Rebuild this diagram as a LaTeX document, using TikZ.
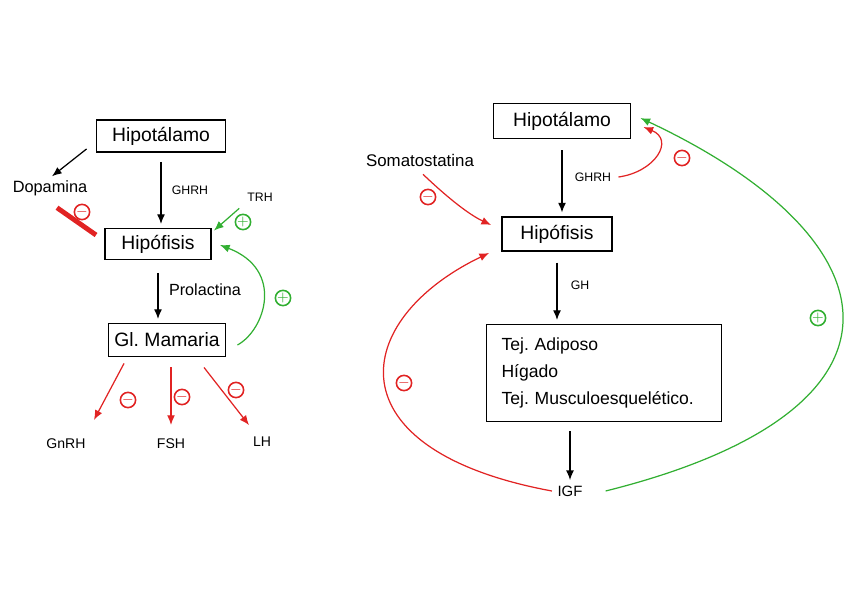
\documentclass[tikz,border=0pt]{standalone}
\usepackage{fontspec}
\setmainfont{Liberation Sans}
\usetikzlibrary{arrows.meta}
\definecolor{rojo}{RGB}{225,35,35}
\definecolor{verde}{RGB}{50,175,50}

\begin{document}
\frenchspacing
\begin{tikzpicture}[x=0.02cm,y=-0.02cm,
	caja/.style={draw,line width=1.1pt,inner sep=0pt,font=\fontsize{11}{13}\selectfont},
	etq/.style={inner sep=1pt,font=\fontsize{7}{8}\selectfont},
	flecha/.style={-{Latex[length=5.5pt,width=4.5pt]},line width=0.7pt},
	menos/.style={circle,draw=rojo,text=rojo,line width=0.9pt,inner sep=0pt,minimum size=0.28cm,font=\fontsize{8}{8}\selectfont},
	mas/.style={menos,draw=verde,text=verde}]
	\useasboundingbox (0,0) rectangle (848,602);

	\node[caja,minimum width=2.58cm,minimum height=0.64cm] (hipL) at (161,136) {Hipotálamo};
	\node[caja,minimum width=2.12cm,minimum height=0.62cm] (hipofL) at (158,244) {Hipófisis};
	\node[caja,minimum width=2.34cm,minimum height=0.66cm] (glL) at (167,340) {Gl. Mamaria};
	\node[etq,font=\fontsize{9.3}{10}\selectfont] (dopa) at (50,188) {Dopamina};
	\node[etq] (ghrhL) at (190,190) {GHRH};
	\node[etq] (trh) at (260,197) {TRH};
	\node[etq,font=\fontsize{9.2}{10}\selectfont] (prl) at (205,290) {Prolactina};
	\node[etq,font=\fontsize{8}{9}\selectfont] (gnrh) at (66,444) {GnRH};
	\node[etq,font=\fontsize{8}{9}\selectfont] (fsh) at (171,444) {FSH};
	\node[etq,font=\fontsize{8}{9}\selectfont] (lh) at (262,442) {LH};

	\draw[flecha] ([shift={(-9,-4)}]hipL.south west) -- ([shift={(2,-2)}]dopa.north);
	\draw[rojo,line width=2.8pt] ([shift={(7,10)}]dopa.south) -- ([shift={(-8,-9)}]hipofL.west);
	\node[menos] (m1) at (82,212) {$-$};
	\draw[flecha,shorten <=5pt,shorten >=2pt] (hipL.south) -- (hipL.south |- hipofL.north);
	\draw[flecha,verde] ([shift={(-6,5)}]trh.south west) -- ([shift={(2,3)}]hipofL.north east);
	\node[mas] (p1) at (243,222) {$+$};
	\draw[flecha,shorten <=7pt,shorten >=2pt] (hipofL.south) -- (hipofL.south |- glL.north);
	\draw[flecha,verde] ([shift={(11,5)}]glL.east) .. controls (265,330) and (285,270) .. ([shift={(8,1)}]hipofL.east);
	\node[mas] (p2) at (283,298) {$+$};
	\draw[flecha,rojo] ([shift={(-43,6)}]glL.south) -- ([shift={(28,-17)}]gnrh.north);
	\draw[flecha,rojo] ([shift={(4,10)}]glL.south) -- ([shift={(0,-12)}]fsh.north);
	\draw[flecha,rojo] ([shift={(37,10)}]glL.south) -- ([shift={(-13,-10)}]lh.north);
	\node[menos] (m2) at (128,400) {$-$};
	\node[menos] (m3) at (182,397) {$-$};
	\node[menos] (m4) at (236,390) {$-$};

	\node[caja,minimum width=2.74cm,minimum height=0.7cm] (hipR) at (562,121) {Hipotálamo};
	\node[caja,minimum width=2.2cm,minimum height=0.68cm] (hipofR) at (557,234) {Hipófisis};
	\node[caja,align=left,text width=4.1cm,inner xsep=0.3cm,minimum height=1.94cm,font=\fontsize{10}{15.3}\selectfont] (tej) at (604,373) {Tej. Adiposo\\Hígado\\Tej. Musculoesquelético.};
	\node[etq,font=\fontsize{9.6}{10}\selectfont] (soma) at (420,160) {Somatostatina};
	\node[etq] (ghrhR) at (593,177) {GHRH};
	\node[etq] (gh) at (580,285) {GH};
	\node[etq,font=\fontsize{8.5}{9}\selectfont] (igf) at (570,491) {IGF};

	\draw[flecha,shorten <=6pt,shorten >=2pt] (hipR.south) -- (hipR.south |- hipofR.north);
	\draw[flecha,shorten <=6pt,shorten >=2pt] (hipofR.south) -- (hipofR.south |- tej.north);
	\draw[flecha,shorten <=5pt,shorten >=2pt] (tej.south -| igf.north) -- (igf.north);
	\draw[flecha,rojo] ([xshift=3pt]ghrhR.east) .. controls (655,172) and (675,140) .. ([shift={(12,6)}]hipR.east);
	\node[menos] (m5) at (682,158) {$-$};
	\draw[flecha,rojo] ([shift={(3,6)}]soma.south) .. controls (450,200) and (470,215) .. ([shift={(-10,-9)}]hipofR.west);
	\node[menos] (m6) at (428,197) {$-$};
	\draw[flecha,rojo] ([xshift=-2pt]igf.west) .. controls (330,450) and (350,320) .. ([shift={(-12,1)}]hipofR.south west);
	\node[menos] (m7) at (404,383) {$-$};
	\draw[flecha,verde] ([xshift=12pt]igf.east) .. controls (930,410) and (900,240) .. ([shift={(9,-3)}]hipR.east);
	\node[mas] (p3) at (818,318) {$+$};
\end{tikzpicture}
\end{document}
